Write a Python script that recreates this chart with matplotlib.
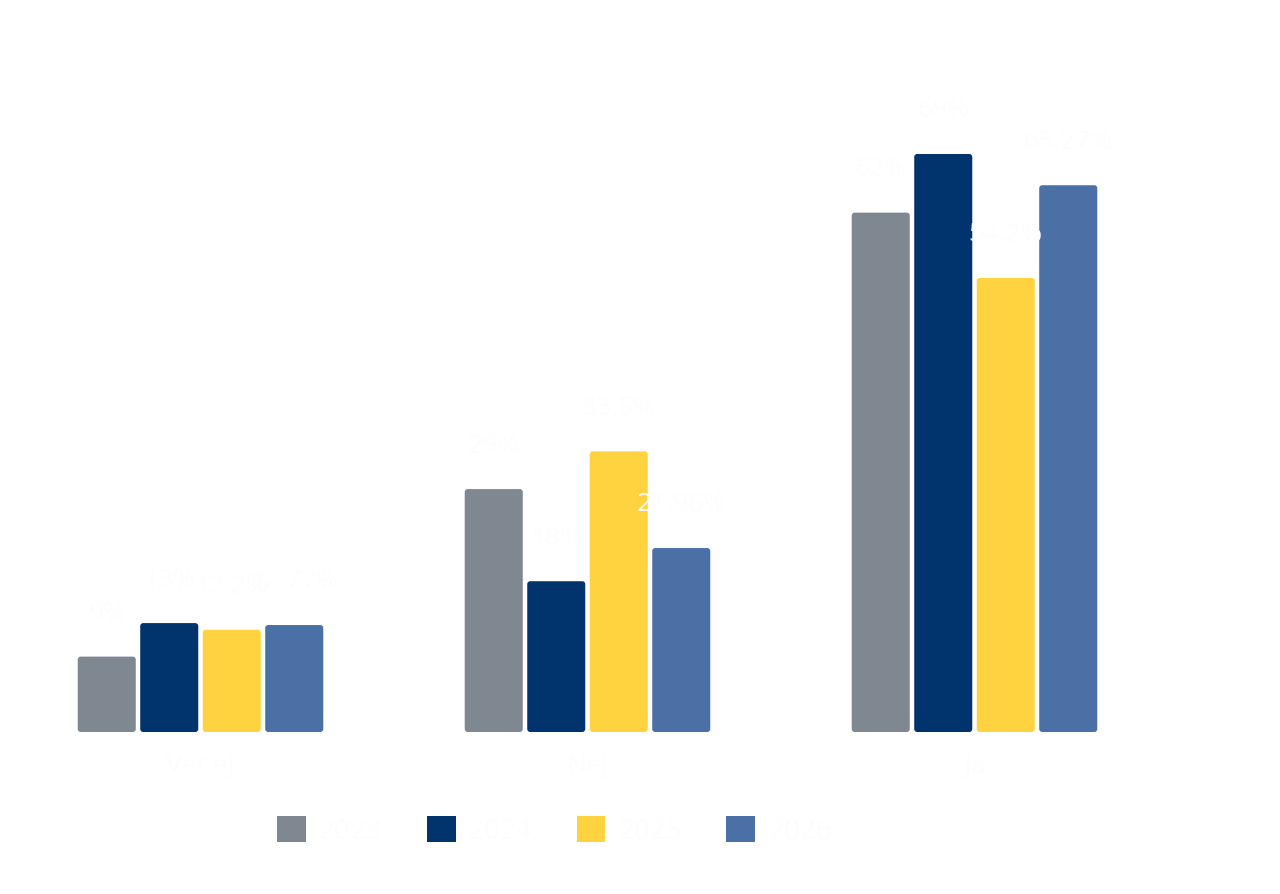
import numpy as np
import matplotlib
matplotlib.use("Agg")
from matplotlib import pyplot as plt
from matplotlib.patches import FancyBboxPatch, Patch

# data
categories = ["Vet ej", "Nej", "Ja"]
years = ["2023", "2024", "2025", "2026"]
values_2023 = [9, 29, 62]
values_2024 = [13, 18, 69]
values_2025 = [12.2, 33.5, 54.2]
values_2026 = [12.77, 21.96, 65.27]
labels_2023 = ["9%", "29%", "62%"]
labels_2024 = ["13%", "18%", "69%"]
labels_2025 = ["12.2%", "33.5%", "54.2%"]
labels_2026 = ["12.77%", "21.96%", "65.27%"]

series = [values_2023, values_2024, values_2025, values_2026]
series_labels = [labels_2023, labels_2024, labels_2025, labels_2026]
colours = ["#7f8890", "#01336c", "#ffd23f", "#4a70a6"]
text_col = "#fdfdfd"

plt.rcParams["font.family"] = ["Open Sans", "DejaVu Sans"]

fig = plt.figure(figsize=(12.8, 8.94), dpi=100)
# axes: x from 7 px to 1168 px, baseline at 732 px, 8.377 px per percent
ax_left, ax_right = 7 / 1280, 1168 / 1280
ax_bottom = 1 - 732 / 894
ymax = 80
ax_height = ymax * 8.377 / 894
ax = fig.add_axes([ax_left, ax_bottom, ax_right - ax_left, ax_height])
ax.set_xlim(-0.5, 2.5)
ax.set_ylim(0, ymax)

x = np.arange(len(categories))
step = 0.1615
width = 0.15

# pixel scale for rounding corners
px_x = 3.0 / 387
px_y = 3.0 / 8.377

for i, (vals, labs) in enumerate(zip(series, series_labels)):
    pos = x + (i - 1.5) * step
    bars = ax.bar(pos, vals, width=width, color=colours[i], alpha=0)
    for b in bars:
        rb = FancyBboxPatch((b.get_x(), b.get_y()), b.get_width(), b.get_height(),
                            boxstyle="round,pad=0,rounding_size=%f" % px_x,
                            mutation_aspect=px_y / px_x,
                            facecolor=colours[i], edgecolor="none")
        ax.add_patch(rb)
    for p, v, lab in zip(pos, vals, labs):
        ax.annotate(lab, (p, v), xytext=(0, 31.0), textcoords="offset points",
                    ha="center", va="center", fontsize=19, color=text_col)

ax.set_xticks(x)
ax.set_xticklabels(categories, fontsize=19, color=text_col)
ax.tick_params(axis="x", length=0, pad=16)
ax.set_yticks([])
for s in ax.spines.values():
    s.set_visible(False)
ax.patch.set_alpha(0)

handles = [Patch(facecolor=c, edgecolor="none") for c in colours]
leg = fig.legend(handles, years, loc="center", bbox_to_anchor=(554.5 / 1280, 1 - 831 / 894),
                 ncol=4, frameon=False, fontsize=20, handlelength=1.04, handleheight=1.04,
                 handletextpad=0.47, columnspacing=1.6)
for t in leg.get_texts():
    t.set_color(text_col)

fig.savefig("out.png", dpi=100, facecolor="white")
